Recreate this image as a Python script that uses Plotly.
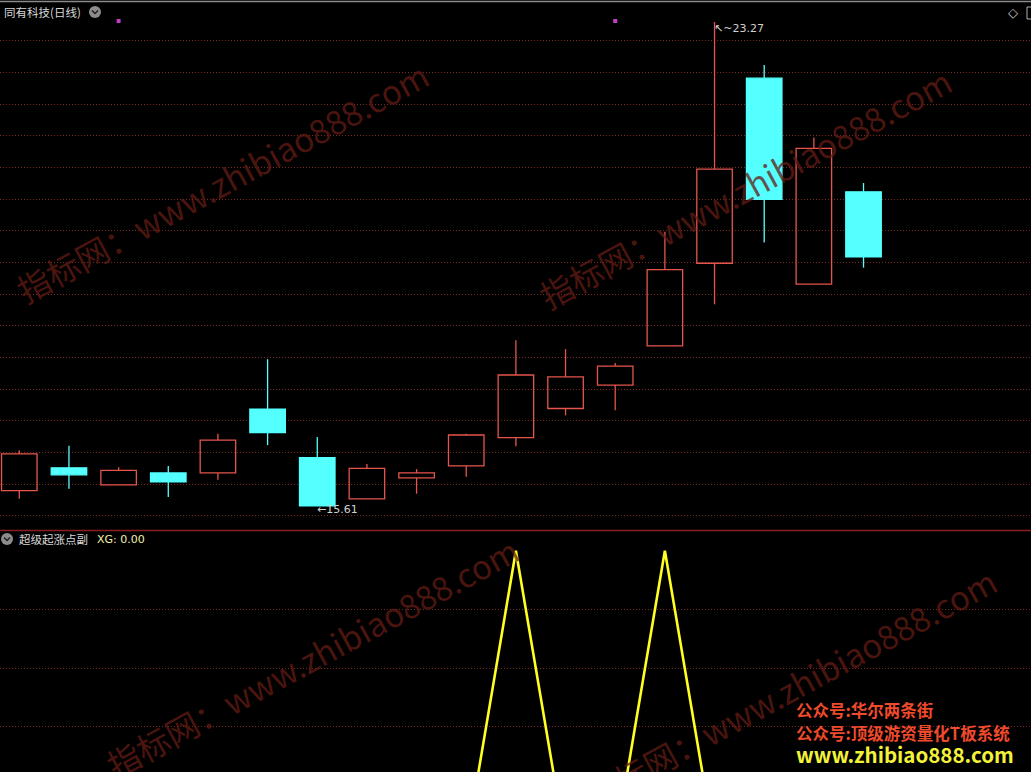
import plotly.graph_objects as go

# ---------------- data ----------------
stock_name = "同有科技(日线)"
indicator_name = "超级起涨点副"
dates_idx = list(range(18))
open_ = [15.85, 16.21, 15.94, 16.13, 16.13, 17.14, 16.37, 15.72, 16.05, 16.24,
         16.69, 17.15, 17.52, 18.14, 19.45, 22.38, 19.12, 20.58]
high_ = [16.49, 16.56, 16.22, 16.24, 16.75, 17.93, 16.70, 16.27, 16.19, 16.75,
         18.23, 18.09, 17.87, 19.95, 23.27, 22.59, 21.44, 20.72]
low_ = [15.72, 15.88, 15.94, 15.75, 16.02, 16.57, 15.61, 15.72, 15.80, 16.07,
        16.55, 17.04, 17.12, 18.14, 18.80, 19.78, 19.12, 19.38]
close_ = [16.43, 16.10, 16.17, 15.99, 16.65, 16.77, 15.61, 16.20, 16.13, 16.73,
          17.68, 17.65, 17.82, 19.35, 20.94, 20.46, 21.27, 19.55]
xg = [0, 0, 0, 0, 0, 0, 0, 0, 0, 0, 1, 0, 0, 1, 0, 0, 0, 0]
signal_idx = [2, 12]
xg_last_label = "XG: 0.00"
watermark = "指标网：www.zhibiao888.com"
promo_lines = ["公众号:华尔两条街", "公众号:顶级游资量化T板系统", "www.zhibiao888.com"]

# ---------------- layout constants ----------------
W, H = 1031, 772
RED = "#e5554c"
CYAN = "#54ffff"
GRID = "#7a2a20"


def fx(px):
    return px / W


def fy(py):
    return 1 - py / H


PX_PER_UNIT = 63.15


def price_at(py):
    return 23.27 - (py - 22) / PX_PER_UNIT


def xg_at(py):
    return 1 - (py - 550.7) / 293.5


x_lo = -19.3 / 49.66
x_hi = (W - 19.3) / 49.66

top_grid = [price_at(40.7 + k * 31.67) for k in range(16)]

fig = go.Figure()

# ---- candles drawn from OHLC lists ----
up = [c >= o for o, c in zip(open_, close_)]
body_base = [min(o, c) for o, c in zip(open_, close_)]
body_h = [abs(c - o) for o, c in zip(open_, close_)]
fig.add_trace(go.Bar(
    x=dates_idx, y=body_h, base=body_base, width=0.715,
    marker=dict(color=["rgba(0,0,0,0)" if u else CYAN for u in up],
                line=dict(color=[RED if u else CYAN for u in up], width=1.3)),
    hoverinfo="skip", xaxis="x", yaxis="y", showlegend=False,
))
for flag, col in [(True, RED), (False, CYAN)]:
    wx, wy = [], []
    for i, u in enumerate(up):
        if u != flag:
            continue
        top = max(open_[i], close_[i])
        bot = min(open_[i], close_[i])
        if high_[i] > top:
            wx += [dates_idx[i], dates_idx[i], None]
            wy += [top, high_[i], None]
        if low_[i] < bot:
            wx += [dates_idx[i], dates_idx[i], None]
            wy += [low_[i], bot, None]
    fig.add_trace(go.Scatter(
        x=wx, y=wy, mode="lines", line=dict(color=col, width=1.3),
        hoverinfo="skip", xaxis="x", yaxis="y", showlegend=False,
    ))

# signal dots at top of main panel
fig.add_trace(go.Scatter(
    x=signal_idx, y=[price_at(21)] * len(signal_idx), mode="markers",
    marker=dict(symbol="square", size=4, color="#c23cc8", line=dict(width=0)),
    hoverinfo="skip", xaxis="x", yaxis="y", showlegend=False,
))

fig.add_trace(go.Scatter(
    x=dates_idx, y=xg, mode="lines", line=dict(color="#ffff22", width=2.6),
    hoverinfo="skip", xaxis="x2", yaxis="y2", showlegend=False,
))

# high / low labels
i_hi = high_.index(max(high_))
i_lo = low_.index(min(low_))
annotations = [
    dict(x=i_hi, y=high_[i_hi], xref="x", yref="y", text="↖~%.2f" % high_[i_hi],
         showarrow=False, xanchor="left", yanchor="middle", xshift=-3, yshift=-6,
         font=dict(size=11, color="#d0d0d0", family="DejaVu Sans")),
    dict(x=i_lo, y=low_[i_lo], xref="x", yref="y", text="←%.2f" % low_[i_lo],
         showarrow=False, xanchor="left", yanchor="middle", xshift=-2, yshift=-4,
         font=dict(size=11, color="#d0d0d0", family="DejaVu Sans")),
]

# watermarks
for cx, cy in [(222, 182), (745, 188), (312, 657), (790, 688)]:
    annotations.append(dict(
        x=fx(cx), y=fy(cy), xref="paper", yref="paper", text=watermark,
        showarrow=False, textangle=-28.5, xanchor="center", yanchor="middle",
        font=dict(size=33, color="rgba(100,28,20,0.75)", family="Noto Sans CJK SC"),
    ))

# headers
annotations += [
    dict(x=fx(2), y=fy(12), xref="paper", yref="paper", text=stock_name,
         showarrow=False, xanchor="left", yanchor="middle",
         font=dict(size=11.5, color="#d8d8d8", family="Noto Sans CJK SC")),
    dict(x=fx(17), y=fy(539), xref="paper", yref="paper", text=indicator_name,
         showarrow=False, xanchor="left", yanchor="middle",
         font=dict(size=11.5, color="#d8d8d8", family="Noto Sans CJK SC")),
    dict(x=fx(95), y=fy(539), xref="paper", yref="paper", text=xg_last_label,
         showarrow=False, xanchor="left", yanchor="middle",
         font=dict(size=11, color="#f2f2a8", family="DejaVu Sans")),
    dict(x=fx(1013), y=fy(13), xref="paper", yref="paper", text="◇",
         showarrow=False, xanchor="center", yanchor="middle",
         font=dict(size=13, color="#c8c8c8", family="DejaVu Sans")),
]

# promo texts
promo_y = [710, 733, 754]
promo_color = ["#ee4a2c", "#ee4a2c", "#f2f23a"]
promo_size = [16.5, 16.5, 20.5]
for t, yy, c, s in zip(promo_lines, promo_y, promo_color, promo_size):
    annotations.append(dict(
        x=fx(794), y=fy(yy), xref="paper", yref="paper", text="<b>%s</b>" % t,
        showarrow=False, xanchor="left", yanchor="middle",
        font=dict(size=s, color=c, family="Noto Sans CJK SC"),
    ))

shapes = [
    dict(type="line", xref="paper", yref="paper", x0=0, x1=1, y0=fy(1.5), y1=fy(1.5),
         line=dict(color="#8a8a8a", width=1.5)),
    dict(type="line", xref="paper", yref="paper", x0=0, x1=1, y0=fy(530.5), y1=fy(530.5),
         line=dict(color="#8e1c1c", width=1.6)),
    dict(type="circle", xref="paper", yref="paper", x0=fx(89), x1=fx(101), y0=fy(6), y1=fy(18),
         fillcolor="#8c8c8c", line=dict(width=0)),
    dict(type="path", xref="paper", yref="paper",
         path="M %f %f L %f %f L %f %f" % (fx(92), fy(10.5), fx(95), fy(13.5), fx(98), fy(10.5)),
         line=dict(color="#202020", width=1.5)),
    dict(type="circle", xref="paper", yref="paper", x0=fx(1), x1=fx(13), y0=fy(533), y1=fy(545),
         fillcolor="#8c8c8c", line=dict(width=0)),
    dict(type="path", xref="paper", yref="paper",
         path="M %f %f L %f %f L %f %f" % (fx(4), fy(537.5), fx(7), fy(540.5), fx(10), fy(537.5)),
         line=dict(color="#202020", width=1.5)),
    dict(type="rect", xref="paper", yref="paper", x0=fx(1027), x1=fx(1035), y0=fy(7), y1=fy(19),
         line=dict(color="#b0b0b0", width=1)),
]

axis_common = dict(showticklabels=False, zeroline=False, showline=False, ticks="")

fig.update_layout(
    width=W, height=H, margin=dict(l=0, r=0, t=0, b=0),
    paper_bgcolor="black", plot_bgcolor="black",
    barmode="overlay",
    xaxis=dict(domain=[0, 1], range=[x_lo, x_hi], anchor="y", showgrid=False, **axis_common),
    yaxis=dict(domain=[fy(530), fy(3)], range=[price_at(530), price_at(3)], anchor="x",
               tickmode="array", tickvals=top_grid, showgrid=True, gridcolor=GRID,
               griddash="1px,2px", gridwidth=1, **axis_common),
    xaxis2=dict(domain=[0, 1], range=[x_lo, x_hi], anchor="y2", showgrid=False,
                matches="x", **axis_common),
    yaxis2=dict(domain=[0, fy(531)], range=[xg_at(772), xg_at(531)], anchor="x2",
                tickmode="array", tickvals=[0.4, 0.6, 0.8], showgrid=True, gridcolor=GRID,
                griddash="1px,2px", gridwidth=1, **axis_common),
    annotations=annotations, shapes=shapes, showlegend=False,
)

fig.write_html("out.html", config={"displayModeBar": False},
               post_script="document.body.style.margin='0';document.body.style.overflow='hidden';")
